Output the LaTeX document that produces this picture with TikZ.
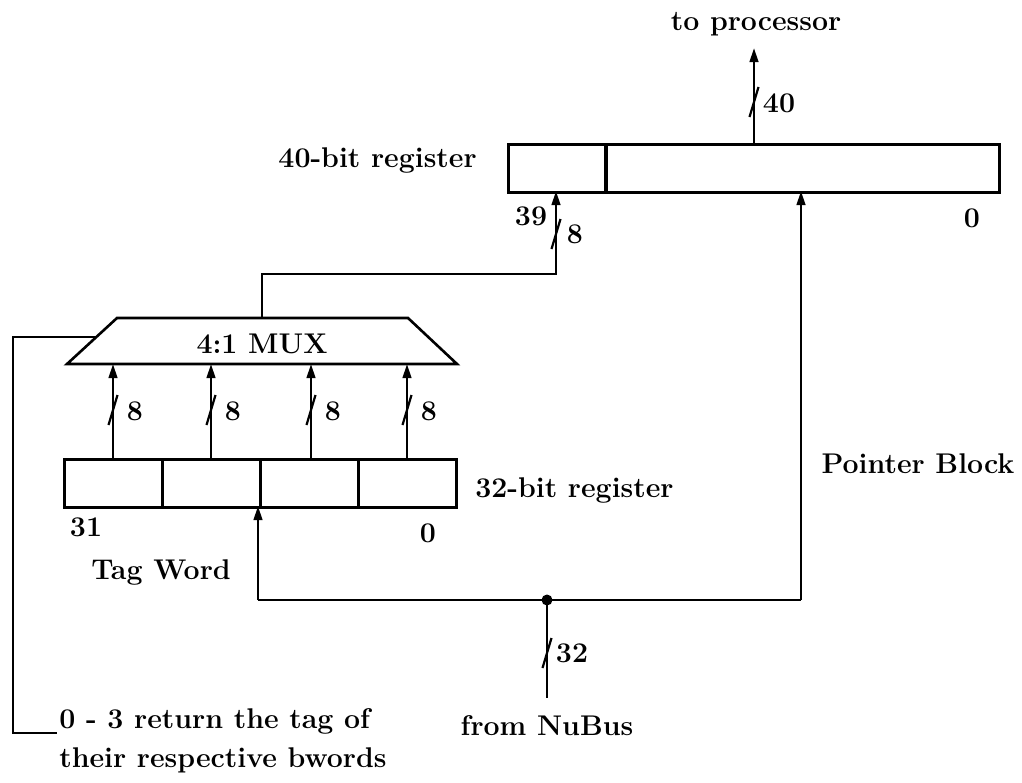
\documentclass[tikz,border=0pt]{standalone}
\usetikzlibrary{arrows.meta}
\begin{document}
\begin{tikzpicture}[x=1pt,y=-1pt,
  line width=2.6pt,
  every node/.style={font=\fontsize{28.5}{34}\selectfont\bfseries, inner sep=0pt},
  cell/.style={draw, line width=2.6pt, anchor=north west, minimum height=48pt},
  arr/.style={-{Triangle[length=14pt,width=8.5pt]}},
  pics/busmark/.style={code={\draw[line width=2.2pt] (-4.5,15) -- (4.5,-15);}}]
\useasboundingbox (0,0) rectangle (1022,782);

% 40-bit register
\node[cell, minimum width=97pt] (ra) at (507,143) {};
\node[cell, minimum width=393pt] (rb) at (605,143) {};
\node[anchor=east] (l40) at (478,160) {40-bit register};
\node (n39) at (531,216) {39};
\node (n0a) at (972,218) {0};

% to processor
\node[anchor=base] (proc) at (756,30) {to processor};
\coordinate (ptop) at (754,48);
\draw[arr] (754,143) -- (ptop);
\pic at (754,102) {busmark};
\node (w40) at (779,103) {40};

% MUX
\draw (67,364) -- (117,318) -- (408,318) -- (457,364) -- cycle;
\node (mux) at (262,344) {4:1 MUX};
\coordinate (muxt) at (262,318);

% MUX output to 40-bit register
\coordinate (bend1) at (262,274);
\coordinate (in39) at (556,191);
\draw[arr] (muxt) -- (bend1) -- (in39 |- bend1) -- (in39);
\pic at (556,234) {busmark};
\node (w8t) at (575,234) {8};

% select line
\coordinate (s0) at (96,337);
\coordinate (s1) at (13,337);
\coordinate (s2) at (13,733);
\coordinate (s3) at (57,733);
\draw (s0) -- (s1) -- (s2) -- (s3);
\node[anchor=base west] (sel1) at (58,728) {0 - 3 return the tag of};
\node[anchor=base west] (sel2) at (58,767) {their respective bwords};

% 32-bit register
\node[cell, minimum width=98pt] (c1) at (63,458) {};
\node[cell, minimum width=98pt] (c2) at (161,458) {};
\node[cell, minimum width=98pt] (c3) at (259,458) {};
\node[cell, minimum width=98pt] (c4) at (357,458) {};
\node[anchor=west] (l32) at (474,490) {32-bit register};
\node (n31) at (86,527) {31};
\node (n0b) at (428,533) {0};
\node (tagw) at (161,572) {Tag Word};

% four 8-bit paths
\foreach \c/\x in {c1/113,c2/211,c3/311,c4/407} {
  \draw[arr] (\x,458) -- (\x,364);
  \pic at (\x,410) {busmark};
  \node at (\x+22,411) {8};
}

% NuBus input
\coordinate (junc) at (547,600);
\coordinate (nb) at (547,698);
\coordinate (bl) at (258,600);
\coordinate (br) at (801,600);
\draw[arr] (bl) -- (258,506);
\draw (bl) -- (br);
\draw[arr] (br) -- (801,191);
\draw (junc) -- (nb);
\fill (junc) circle (5.5);
\pic at (547,653) {busmark};
\node (w32) at (572,653) {32};
\node[anchor=base] (nubus) at (547,735) {from NuBus};
\node (pb) at (918,464) {Pointer Block};
\end{tikzpicture}
\end{document}
